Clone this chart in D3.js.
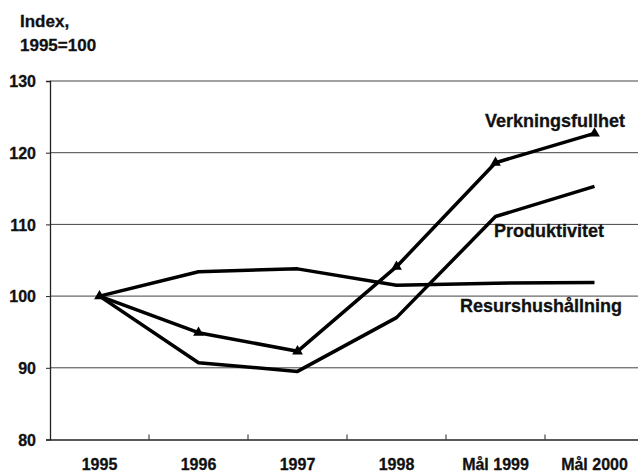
<!DOCTYPE html>
<html>
<head>
<meta charset="utf-8">
<script src="https://cdn.jsdelivr.net/npm/d3@7"></script>
<style>
  body { margin: 0; background: #fff; }
  svg text { font-family: "Liberation Sans", Arial, sans-serif; font-weight: bold; fill: #111; stroke: #111; stroke-width: 0.3px; }
</style>
</head>
<body>
<svg id="chart"></svg>
<script>
const categories = ["1995", "1996", "1997", "1998", "Mål 1999", "Mål 2000"];
const verkningsfullhet = [100, 94.9, 92.3, 104.1, 118.6, 122.7];
const produktivitet = [100, 90.7, 89.5, 97.0, 111.1, 115.3];
const resurshushallning = [100, 103.4, 103.8, 101.5, 101.8, 101.9];
const yTicks = [80, 90, 100, 110, 120, 130];

const W = 638, H = 472;
const plotLeft = 50, plotRight = 644, plotTop = 81, plotBottom = 439.5;

const svg = d3.select("#chart").attr("width", W).attr("height", H);

const x = d3.scaleBand().domain(categories).range([plotLeft, plotRight]);
const y = d3.scaleLinear().domain([80, 130]).range([plotBottom, plotTop]);
const cx = d => x(d) + x.bandwidth() / 2;

// title
svg.append("text").attr("x", 20).attr("y", 27).style("font-size", "17px").text("Index,");
svg.append("text").attr("x", 20).attr("y", 51).style("font-size", "17px").text("1995=100");

// gridlines
svg.append("g").selectAll("line")
  .data(yTicks.filter(t => t > 80))
  .enter().append("line")
  .attr("x1", plotLeft).attr("x2", plotRight)
  .attr("y1", d => y(d)).attr("y2", d => y(d))
  .attr("stroke", "#444").attr("stroke-width", 1);

// y axis
const yAxis = svg.append("g")
  .attr("transform", `translate(${plotLeft},0)`)
  .call(d3.axisLeft(y).tickValues(yTicks).tickSize(4).tickPadding(10));
yAxis.select(".domain").attr("stroke", "#222").attr("stroke-width", 1.3);
yAxis.selectAll(".tick line").attr("stroke", "#222");
yAxis.selectAll("text").style("font-size", "16px").attr("dy", "0.35em");

// x axis
const xAxis = svg.append("g")
  .attr("transform", `translate(0,${plotBottom})`)
  .call(d3.axisBottom(x).tickSize(0).tickPadding(19));
xAxis.select(".domain").attr("stroke", "#222").attr("stroke-width", 1.3);
xAxis.selectAll("text").style("font-size", "16px");

// category boundary ticks, pointing up
svg.append("g").selectAll("line")
  .data(categories.slice(1))
  .enter().append("line")
  .attr("x1", d => x(d)).attr("x2", d => x(d))
  .attr("y1", plotBottom).attr("y2", plotBottom - 5)
  .attr("stroke", "#222");

const line = d3.line()
  .x((d, i) => cx(categories[i]))
  .y(d => y(d));

[resurshushallning, produktivitet, verkningsfullhet].forEach(s => {
  svg.append("path")
    .datum(s)
    .attr("d", line)
    .attr("fill", "none")
    .attr("stroke", "#000")
    .attr("stroke-width", 3.5)
    .attr("stroke-linejoin", "round");
});

// triangle markers
svg.append("g").selectAll("path")
  .data(verkningsfullhet)
  .enter().append("path")
  .attr("d", d3.symbol().type(d3.symbolTriangle).size(50))
  .attr("transform", (d, i) => `translate(${cx(categories[i])},${y(d)})`)
  .attr("fill", "#000");

// series labels
const labels = [
  { text: "Verkningsfullhet", x: 485, y: 127 },
  { text: "Produktivitet", x: 494, y: 237 },
  { text: "Resurshushållning", x: 460, y: 312 }
];
svg.append("g").selectAll("text")
  .data(labels)
  .enter().append("text")
  .attr("x", d => d.x).attr("y", d => d.y)
  .style("font-size", "18px")
  .text(d => d.text);
</script>
</body>
</html>
